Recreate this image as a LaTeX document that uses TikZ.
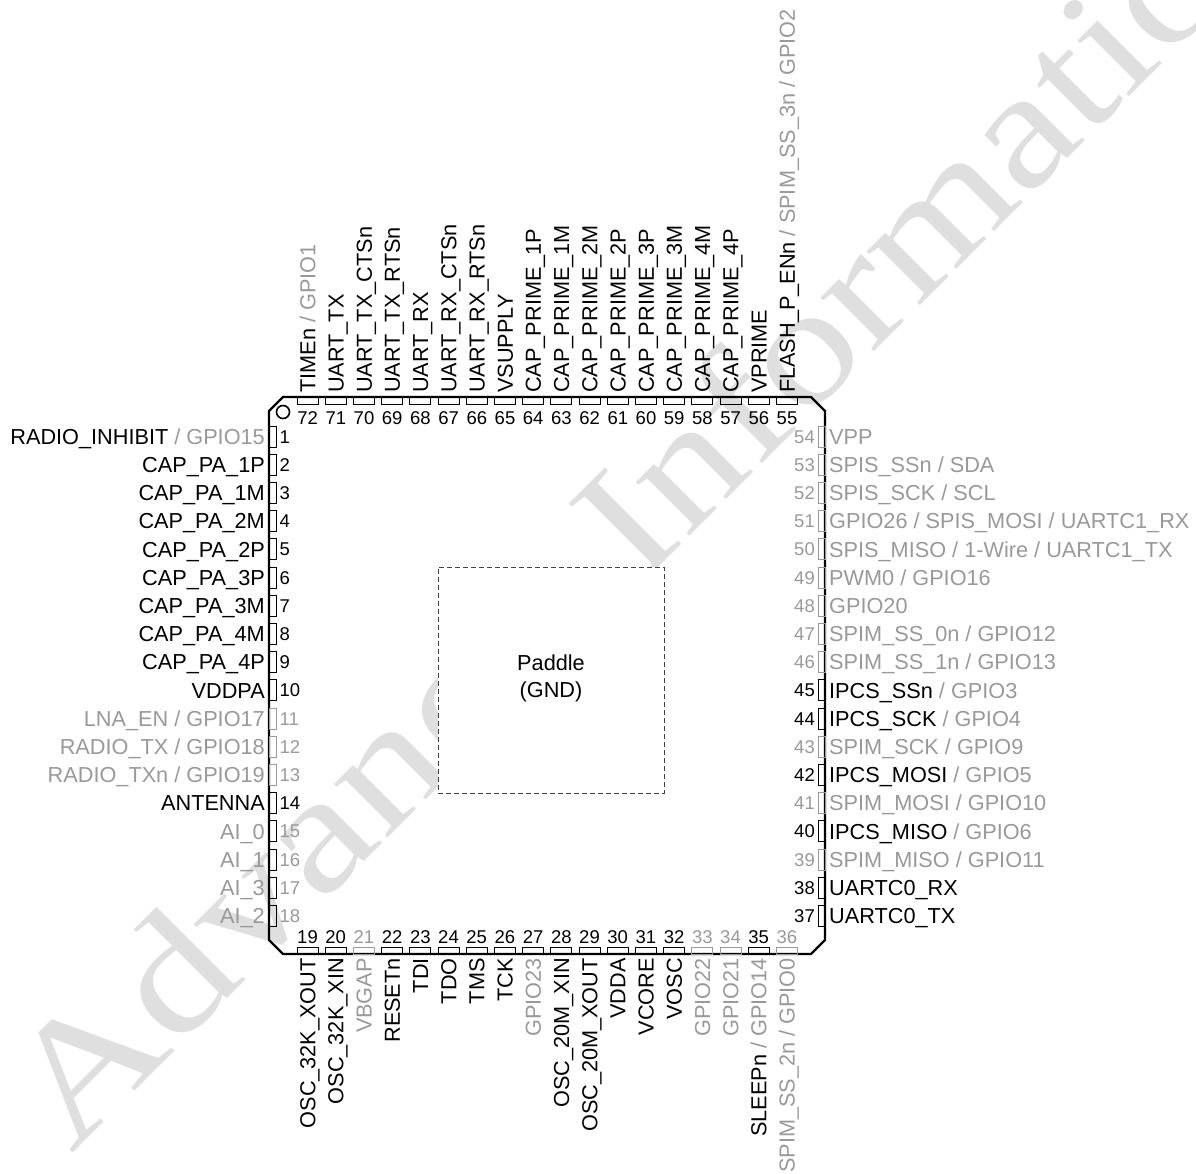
\documentclass[tikz,border=0pt]{standalone}
\usepackage{fontspec}
\setmainfont{Liberation Sans}
\newfontfamily\wmarkfont{Liberation Serif}
\usepackage{tikz}
\definecolor{pingray}{gray}{0.6}
\definecolor{markgray}{gray}{0.875}
\newcommand{\gry}[1]{\textcolor{pingray}{#1}}
\tikzset{
    pinbox/.style={draw=#1, line width=0.9pt, shape=rectangle, inner sep=0pt},
    vpin/.style={pinbox=#1, minimum width=21pt, minimum height=7pt},
    hpin/.style={pinbox=#1, minimum width=7pt, minimum height=21pt},
    pinnum/.style={text=#1, inner sep=0pt, text height=13pt, text depth=0pt, font=\fontsize{18.5}{20}\selectfont},
    pinlab/.style={text=#1, inner sep=0pt, text height=15.5pt, text depth=0pt, font=\fontsize{21.7}{26}\selectfont}
}
\begin{document}
\begin{tikzpicture}[x=1pt,y=-1pt]
    \clip (0,0) rectangle (1196,1173);
    % watermark
    \node[rotate=45, anchor=base west, inner sep=0pt, text=markgray, font=\wmarkfont\fontsize{165}{165}\selectfont] (wmark) at (71,1155) {\scalebox{1.24}[1]{Advance}\hspace{78pt}\scalebox{1.19}[1]{Information}};
    % package outline
    \draw[line width=2.2pt, line join=miter] (283,397) -- (811,397) -- (825,411) -- (825,940) -- (811,954) -- (283,954) -- (269,940) -- (269,411) -- cycle;
    \node[draw, shape=circle, line width=1.6pt, minimum size=13pt, inner sep=0pt] (dot) at (283,412) {};
    % paddle
    \node[draw=black!75, fill=white, dash pattern=on 5pt off 3pt, line width=0.9pt, shape=rectangle, minimum size=226pt, inner sep=0pt] (paddle) at (551,680) {};
    \node[pinlab=black, align=center, text height=, font=\fontsize{21.7}{27}\selectfont] (paddlelab) at (551,676) {Paddle\\(GND)};
    % left side
    \foreach \n/\lab/\col/\bcol in {
        1/{RADIO\_INHIBIT \gry{/ GPIO15}}/black/black, 2/CAP\_PA\_1P/black/black, 3/CAP\_PA\_1M/black/black,
        4/CAP\_PA\_2M/black/black, 5/CAP\_PA\_2P/black/black, 6/CAP\_PA\_3P/black/black,
        7/CAP\_PA\_3M/black/black, 8/CAP\_PA\_4M/black/black, 9/CAP\_PA\_4P/black/black,
        10/VDDPA/black/black, 11/{LNA\_EN / GPIO17}/pingray/pingray, 12/{RADIO\_TX / GPIO18}/pingray/pingray,
        13/{RADIO\_TXn / GPIO19}/pingray/pingray, 14/ANTENNA/black/black, 15/AI\_0/pingray/black,
        16/AI\_1/pingray/black, 17/AI\_3/pingray/black, 18/AI\_2/pingray/black}
    {
        \pgfmathsetmacro{\py}{436.5+28.2*(\n-1)}
        \node[hpin=\bcol] (pin\n) at (272.5,\py) {};
        \node[pinnum=\col, anchor=west] (num\n) at (279.5,\py) {\n};
        \node[pinlab=\col, anchor=east] (lab\n) at (265,\py) {\lab};
    }
    % bottom side
    \foreach \n/\lab/\col/\ncol in {
        19/OSC\_32K\_XOUT/black/black, 20/OSC\_32K\_XIN/black/black, 21/VBGAP/pingray/pingray,
        22/RESETn/black/black, 23/TDI/black/black, 24/TDO/black/black,
        25/TMS/black/black, 26/TCK/black/black, 27/GPIO23/pingray/black,
        28/OSC\_20M\_XIN/black/black, 29/OSC\_20M\_XOUT/black/black, 30/VDDA/black/black,
        31/VCORE/black/black, 32/VOSC/black/black, 33/GPIO22/pingray/pingray,
        34/GPIO21/pingray/pingray, 35/{SLEEPn \gry{/ GPIO14}}/black/black,
        36/{SPIM\_SS\_2n / GPIO0}/pingray/pingray}
    {
        \pgfmathsetmacro{\px}{307.5+28.2*(\n-19)}
        \node[vpin=\ncol] (pin\n) at (\px,950.5) {};
        \node[pinnum=\ncol] (num\n) at (\px,937) {\n};
        \node[pinlab=\col, rotate=90, anchor=east] (lab\n) at (\px,958) {\lab};
    }
    % right side
    \foreach \n/\lab/\col in {
        37/UARTC0\_TX/black, 38/UARTC0\_RX/black, 39/{SPIM\_MISO / GPIO11}/pingray,
        40/{IPCS\_MISO \gry{/ GPIO6}}/black, 41/{SPIM\_MOSI / GPIO10}/pingray,
        42/{IPCS\_MOSI \gry{/ GPIO5}}/black, 43/{SPIM\_SCK / GPIO9}/pingray,
        44/{IPCS\_SCK \gry{/ GPIO4}}/black, 45/{IPCS\_SSn \gry{/ GPIO3}}/black,
        46/{SPIM\_SS\_1n / GPIO13}/pingray, 47/{SPIM\_SS\_0n / GPIO12}/pingray,
        48/GPIO20/pingray, 49/{PWM0 / GPIO16}/pingray,
        50/{SPIS\_MISO / 1-Wire / UARTC1\_TX}/pingray,
        51/{GPIO26 / SPIS\_MOSI / UARTC1\_RX}/pingray, 52/{SPIS\_SCK / SCL}/pingray,
        53/{SPIS\_SSn / SDA}/pingray, 54/VPP/pingray}
    {
        \pgfmathsetmacro{\py}{916+28.2*(37-\n)}
        \node[hpin=\col] (pin\n) at (821.5,\py) {};
        \node[pinnum=\col, anchor=east] (num\n) at (815,\py) {\n};
        \node[pinlab=\col, anchor=west] (lab\n) at (829,\py) {\lab};
    }
    % top side
    \foreach \n/\lab in {
        55/{FLASH\_P\_ENn \gry{/ SPIM\_SS\_3n / GPIO2}}, 56/VPRIME, 57/CAP\_PRIME\_4P,
        58/CAP\_PRIME\_4M, 59/CAP\_PRIME\_3M, 60/CAP\_PRIME\_3P, 61/CAP\_PRIME\_2P,
        62/CAP\_PRIME\_2M, 63/CAP\_PRIME\_1M, 64/CAP\_PRIME\_1P, 65/VSUPPLY,
        66/UART\_RX\_RTSn, 67/UART\_RX\_CTSn, 68/UART\_RX, 69/UART\_TX\_RTSn,
        70/UART\_TX\_CTSn, 71/UART\_TX, 72/{TIMEn \gry{/ GPIO1}}}
    {
        \pgfmathsetmacro{\px}{787+28.2*(55-\n)}
        \node[vpin=black] (pin\n) at (\px,400.5) {};
        \node[pinnum=black] (num\n) at (\px,418) {\n};
        \node[pinlab=black, rotate=90, anchor=west] (lab\n) at (\px,393) {\lab};
    }
\end{tikzpicture}
\end{document}
